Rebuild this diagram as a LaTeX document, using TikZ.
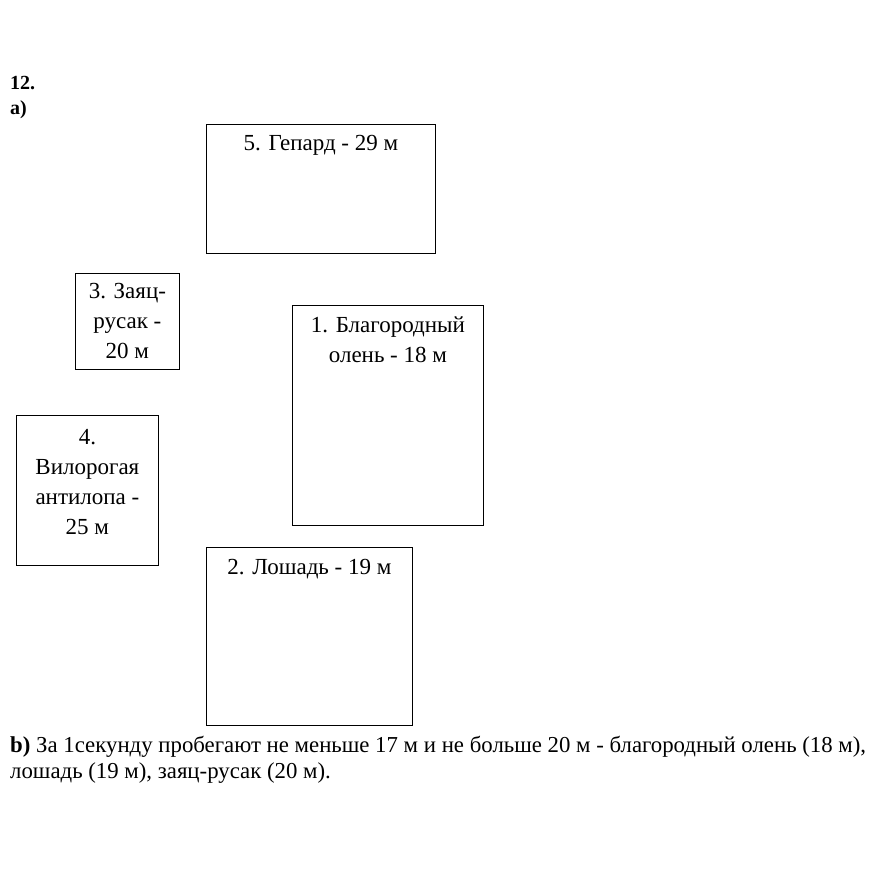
\documentclass[tikz,border=0pt]{standalone}
\usepackage{fontspec}
\setmainfont{Liberation Serif}
\usetikzlibrary{positioning}

\begin{document}
\begin{tikzpicture}[x=1pt,y=-1pt,
  animalbox/.style={draw,line width=0.8pt,inner sep=0,anchor=north west},
  animaltext/.style={anchor=north,align=center,inner sep=0,font=\fontsize{23}{30}\selectfont},
  plaintext/.style={anchor=north west,inner sep=0,align=left,font=\fontsize{22.8}{26}\selectfont}]
\useasboundingbox (0,0) rectangle (876,879);
% headings
\node[plaintext,font=\fontsize{20}{25}\bfseries] (num) at (10,76) {12.\\a)};
% boxes
\node[animalbox,minimum width=229,minimum height=129] (gepard) at (206,124) {};
\node[animalbox,minimum width=104,minimum height=96] (zayac) at (75,273) {};
\node[animalbox,minimum width=191,minimum height=220] (olen) at (292,305) {};
\node[animalbox,minimum width=142,minimum height=150] (vilo) at (16,415) {};
\node[animalbox,minimum width=206,minimum height=178] (loshad) at (206,547) {};
% labels inside the boxes
\node[animaltext] (tgepard) at ([yshift=-11]gepard.north) {5. Гепард - 29 м};
\node[animaltext] (tzayac) at ([yshift=-10]zayac.north) {3. Заяц-\\русак -\\20 м};
\node[animaltext] (tolen) at ([yshift=-12]olen.north) {1. Благородный\\олень - 18 м};
\node[animaltext] (tvilo) at ([yshift=-14]vilo.north) {4.\\Вилорогая\\антилопа -\\25 м};
\node[animaltext] (tloshad) at ([yshift=-12]loshad.north) {2. Лошадь - 19 м};
% answer
\node[plaintext] (answer) at (10,736) {\textbf{b)} За 1секунду пробегают не меньше 17 м и не больше 20 м - благородный олень (18 м),\\лошадь (19 м), заяц-русак (20 м).};
\end{tikzpicture}
\end{document}
